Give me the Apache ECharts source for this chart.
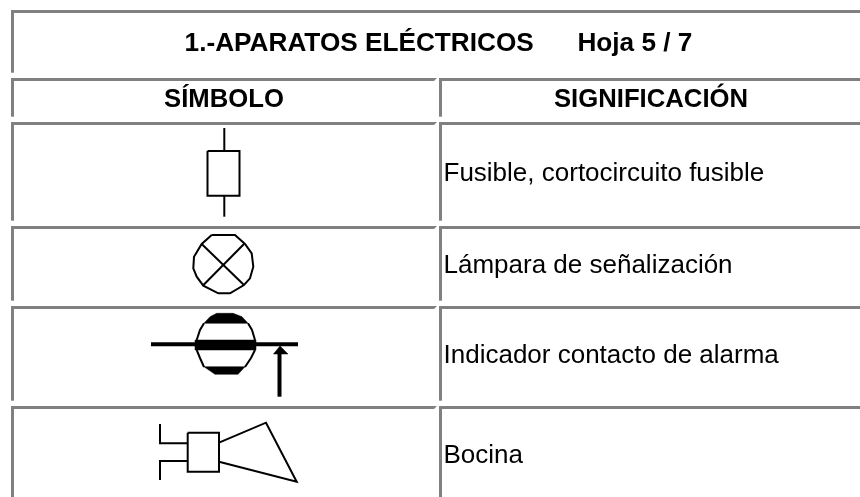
<!DOCTYPE html>
<html><head><meta charset="utf-8">
<style>html,body{margin:0;padding:0;background:#fff}#c{width:860px;height:497px;filter:blur(0.4px)}</style>
<script src="https://cdn.jsdelivr.net/npm/echarts@6/dist/echarts.min.js"></script>
</head><body><div id="c"></div>
<script>
// Table text
const titleText = '1.-APARATOS ELÉCTRICOS\u00a0\u00a0\u00a0\u00a0\u00a0\u00a0Hoja 5 / 7';
const headerLabels = ['SÍMBOLO', 'SIGNIFICACIÓN'];
const rowLabels = ['Fusible, cortocircuito fusible', 'Lámpara de señalización', 'Indicador contacto de alarma', 'Bocina'];
// anchors in sheet units [x, baseline y]
const titleAnchor = [[438.5, 51]];
const headerAnchors = [[224, 107], [651, 107]];
const rowAnchors = [[443.5, 181], [443.5, 273.3], [443.5, 363.3], [443.5, 462.7]];
// table rules: horizontal [x1,x2,ytop], vertical [x,ytop,ybottom]
const rulesH = [[11,860,10],[11,437,78],[439,860,78],[11,437,122],[439,860,122],[11,437,226],[439,860,226],[11,437,306],[439,860,306],[11,437,406],[439,860,406]];
const rulesV = [[11,10,72.7],[11,78,116.7],[439,78,116.7],[11,122,220.7],[439,122,220.7],[11,226,300.7],[439,226,300.7],[11,306,400.7],[439,306,400.7],[11,406,497],[439,406,497]];
// symbol drawings
const fuseLines = [[[224.3,128],[224.3,151]],[[224.3,195.7],[224.3,216.7]],[[207.5,151],[239.5,151],[239.5,195.7],[207.5,195.7],[207.5,151]]];
const lampLines = [
 [[211.7,235],[235,235],[245,244],[251.7,253.3],[253.3,266.7],[250,278.3],[244,285],[230,293.3],[218.3,293.3],[203.3,285.7],[196.7,276.7],[193.3,268.3],[194,256.7],[201.7,244],[211.7,235]],
 [[201.7,244],[244,285]],[[244,244],[202.7,285.7]]
];
const indicatorThin = [[[204,323.3],[200,330],[196.7,340]],[[248,323.3],[252,330],[255,340]],[[196.7,350],[200,358],[204,367]],[[255,350],[251,358],[245,367]]];
const indicatorThick = [[[151,344.3],[298,344.3]],[[279.5,353],[279.5,396.7]]];
const indicatorFills = [
 [[204,323.3],[248,323.3],[242,316.7],[233,313.3],[216.7,313.3],[210,316.7]],
 [[195,340],[256,340],[256,350],[195,350]],
 [[204,366.7],[245,366.7],[238,374.3],[215,374.3]],
 [[280,346],[273.5,354],[288,354]]
];
const hornLines = [
 [[187.7,432.7],[219,432.7],[219,471.7],[187.7,471.7],[187.7,432.7]],
 [[160,424],[160,443.3],[187.7,443.3]],[[160,480],[160,461],[187.7,461]],
 [[219,442.7],[266,422.7],[296.7,481.7],[219,461.7]]
];
const thinLines = [...fuseLines, ...lampLines, ...indicatorThin, ...hornLines];

const GRAY = '#808080', INK = '#000';
const FONT = 'Liberation Sans, Arial, sans-serif';
const chart = echarts.init(document.getElementById('c'), null, {renderer:'canvas'});

function polySeries(list, width, fill){
  return {type:'custom', coordinateSystem:'cartesian2d', silent:true, clip:false,
    data:list.map((_, i)=>[i]), encode:{x:0,y:0},
    renderItem(p, api){
      const pts = list[api.value(0)].map(q=>api.coord(q));
      return fill
        ? {type:'polygon', shape:{points:pts}, style:{fill:INK, stroke:INK, lineWidth:0.5}}
        : {type:'polyline', shape:{points:pts}, style:{fill:'none', stroke:INK, lineWidth:width, lineJoin:'miter', lineCap:'butt'}};
    }};
}
function ruleSeries(list, horizontal){
  return {type:'custom', coordinateSystem:'cartesian2d', silent:true, clip:false,
    data:list.map((_, i)=>[i]), encode:{x:0,y:0},
    renderItem(p, api){
      const r = list[api.value(0)];
      if (horizontal) {
        const bevel = r[1] < 860 ? 3 : 0;
        return {type:'polygon', shape:{points:[api.coord([r[0],r[2]]), api.coord([r[1],r[2]]), api.coord([r[1]-bevel,r[2]+3]), api.coord([r[0],r[2]+3])]}, style:{fill:GRAY}};
      }
      const a = api.coord([r[0], r[1]]), b = api.coord([r[0]+3, r[2]]);
      return {type:'rect', shape:{x:a[0], y:a[1], width:b[0]-a[0], height:b[1]-a[1]}, style:{fill:GRAY}};
    }};
}
function textSeries(labels, anchors, font, align, capOffset){
  return {type:'custom', coordinateSystem:'cartesian2d', silent:true, clip:false,
    data:labels.map((_, i)=>[i]), encode:{x:0,y:0},
    renderItem(p, api){
      const i = api.value(0), c = api.coord(anchors[i]);
      return {type:'text', style:{text:labels[i], x:c[0], y:c[1]+capOffset, font, fill:INK, textAlign:align, textVerticalAlign:'bottom'}};
    }};
}
chart.setOption({
  animation:false, backgroundColor:'#fff',
  grid:{left:0,right:0,top:0,bottom:0},
  xAxis:{type:'value',min:0,max:860,show:false},
  yAxis:{type:'value',min:0,max:497,inverse:true,show:false},
  tooltip:{show:false},
  series:[
    ruleSeries(rulesH,true), ruleSeries(rulesV,false),
    polySeries(thinLines,2,false), polySeries(indicatorThick,4,false), polySeries(indicatorFills,0,true),
    textSeries([titleText],titleAnchor,'bold 26.2px '+FONT,'center',6),
    textSeries(headerLabels,headerAnchors,'bold 25.7px '+FONT,'center',6),
    textSeries(rowLabels,rowAnchors,'26px '+FONT,'left',6)
  ]
});
</script></body></html>
